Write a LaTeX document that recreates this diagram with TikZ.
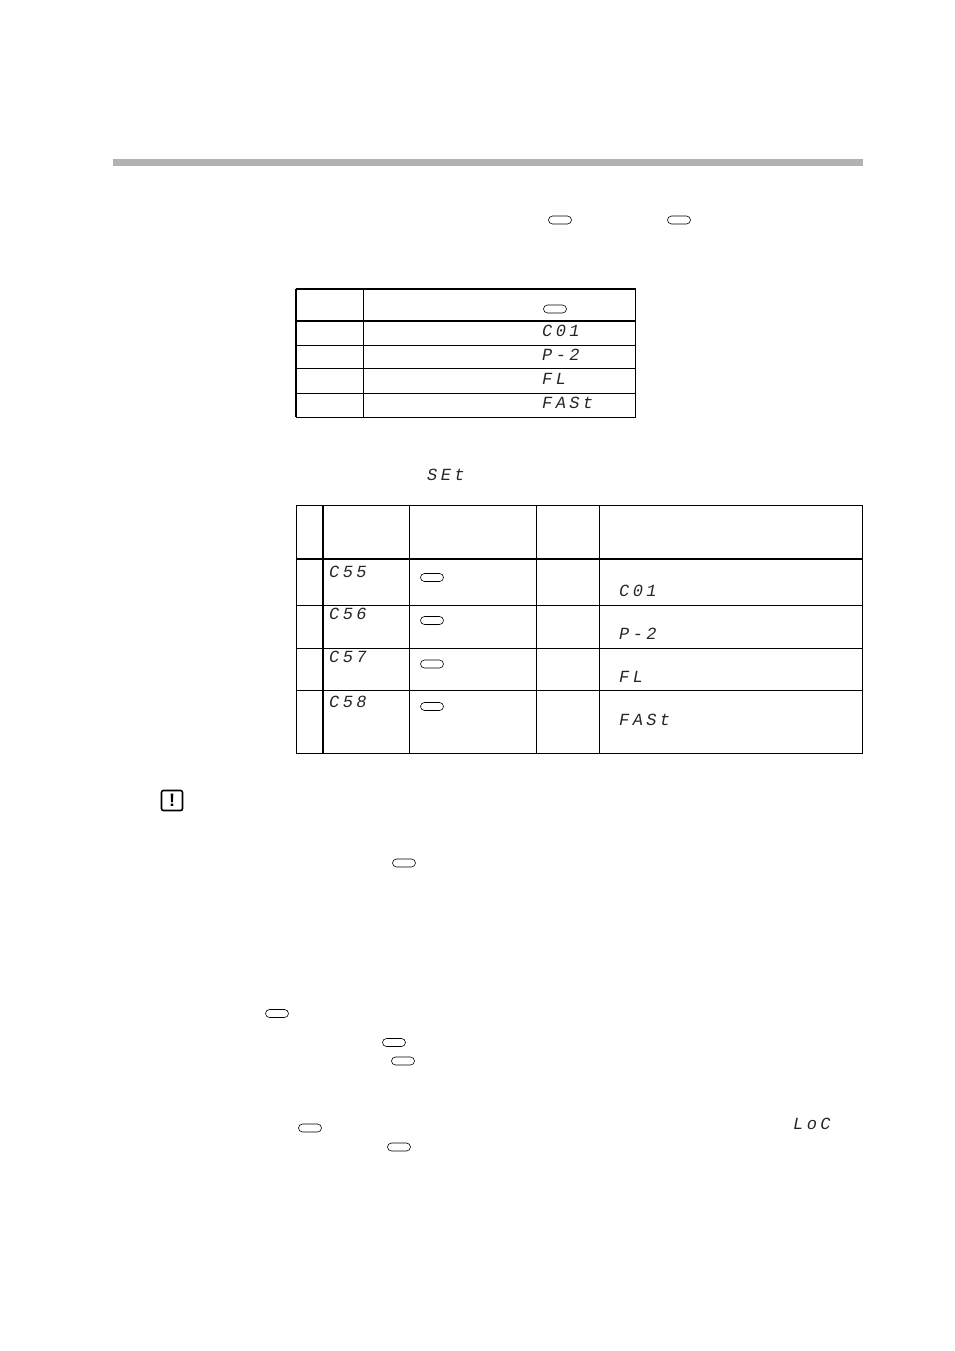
\documentclass[tikz,border=0pt]{standalone}
\usepackage{fontspec}
\setmainfont{Liberation Sans}
\newfontfamily\segfont[LetterSpace=20]{Liberation Mono}
\tikzset{
  keypill/.style={draw=black,line width=0.6pt,rounded corners=4pt,minimum width=23pt,minimum height=8pt,inner sep=0pt,fill=white},
  segtext/.style={anchor=west,inner sep=0pt,font=\segfont\itshape\fontsize{17}{17}\selectfont,text=black!85},
  thickrule/.style={line width=1.6pt,black},
  thinrule/.style={line width=0.9pt,black},
  warnbox/.style={draw=black,line width=1.6pt,rounded corners=2pt,minimum width=21pt,minimum height=20pt,inner sep=0pt,font=\bfseries\fontsize{18}{18}\selectfont}
}
\begin{document}
\begin{tikzpicture}[x=1pt,y=-1pt]
\useasboundingbox (0,0) rectangle (954,1351);
\fill[fill=black!30] (113,159) rectangle (863,166);
% upper table
\draw[thinrule] (296,345)--(635,345) (296,368.5)--(635,368.5) (296,393)--(635,393);
\draw[thinrule] (363,289)--(363,417);
\draw[thinrule] (296,289) rectangle (635,417);
\draw[thickrule] (295.5,321)--(635.5,321);
\draw[thickrule] (295.5,289)--(635.5,289);
\draw[line width=1.3pt] (296,289)--(296,417);
% lower table
\draw[thinrule] (296,605)--(862.5,605) (296,648)--(862.5,648) (296,690.5)--(862.5,690.5);
\draw[thinrule] (409,505)--(409,753) (536.5,505)--(536.5,753) (599.5,505)--(599.5,753);
\draw[thickrule] (296,559)--(862.5,559);
\draw[thickrule] (323,505)--(323,753);
\draw[thinrule] (296,505) rectangle (862.5,753);
% keys
\foreach \nm/\px/\py in {ka/560/220,kb/679/220,kc/555/309,kd/432/577.5,ke/432/620.5,kf/432/664,kg/432/706.5,kh/404/863,ki/277/1013.5,kj/394/1042.5,kk/403/1061,kl/310/1128,km/399/1147}
  \node[keypill] (\nm) at (\px,\py) {};
% seven-segment readouts
\node[segtext] (sa) at (542,331) {C01};
\node[segtext] (sb) at (542,355) {P-2};
\node[segtext] (sc) at (542,379) {FL};
\node[segtext] (sd) at (542,403) {FASt};
\node[segtext] (se) at (427,475) {SEt};
\node[segtext] (sf) at (329,572) {C55};
\node[segtext] (sg) at (329,614) {C56};
\node[segtext] (sh) at (329,657) {C57};
\node[segtext] (si) at (329,702) {C58};
\node[segtext] (sj) at (619,591) {C01};
\node[segtext] (sk) at (619,634) {P-2};
\node[segtext] (sl) at (619,677) {FL};
\node[segtext] (sm) at (619,720) {FASt};
\node[segtext] (sn) at (793,1124) {LoC};
% caution mark
\node[warnbox] (warn) at (172,800.5) {!};
\end{tikzpicture}
\end{document}
